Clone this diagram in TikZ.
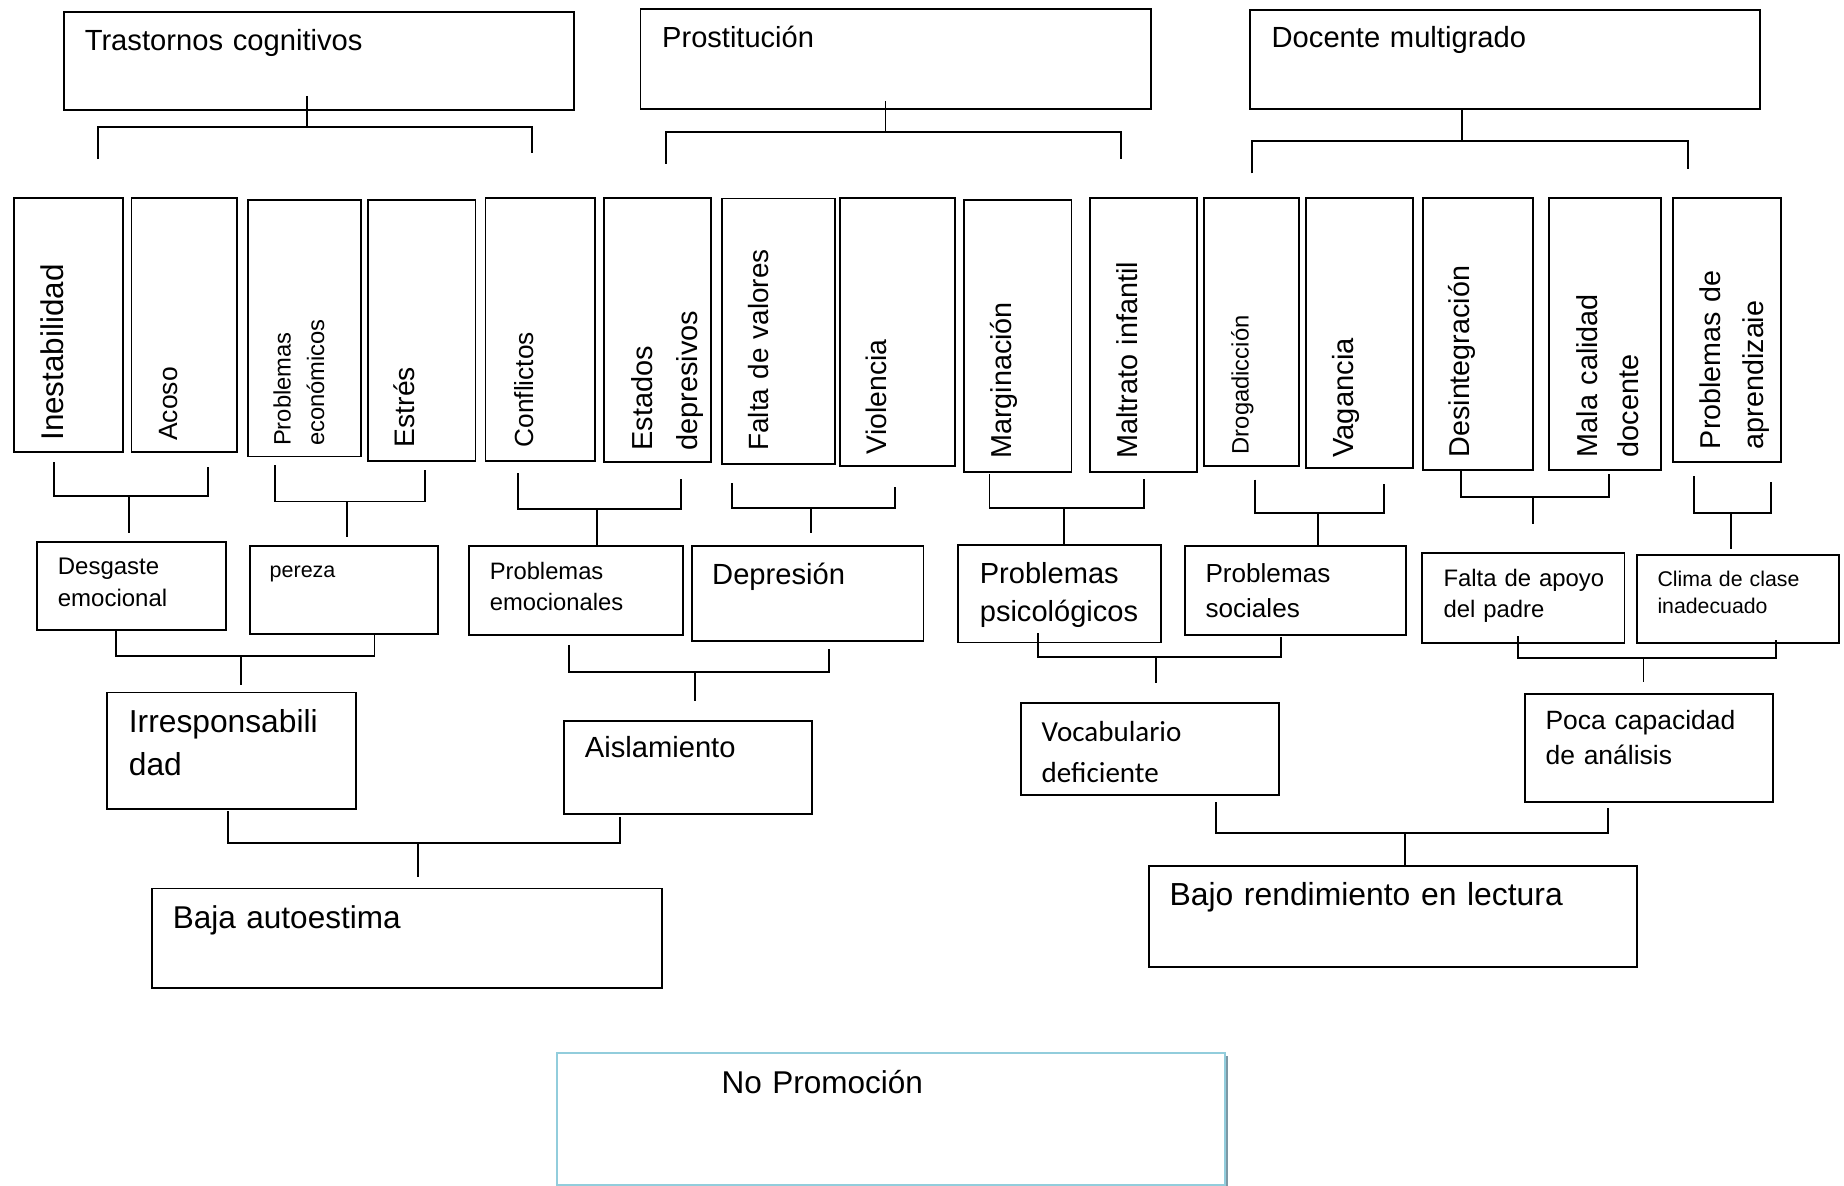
\documentclass[tikz,border=0pt]{standalone}
\usepackage{fontspec}
\setmainfont{Liberation Sans}
\newfontfamily\carlito{Carlito}
\usetikzlibrary{positioning, calc, shadows}
\definecolor{promo}{RGB}{146,205,220}
\definecolor{promoshade}{RGB}{125,152,165}
\hyphenpenalty=10000
\exhyphenpenalty=10000

\begin{document}
\begin{tikzpicture}
  [x=1pt, y=-1pt,
   box/.style={draw, line width=.8pt, rectangle, anchor=north west, align=left, inner ysep=0pt},
   tallbox/.style={box, rotate=90},
   sz/.style n args={4}{text width=#1pt, inner xsep=#2pt, text height=#3pt, text depth=#4pt},
   fs/.style 2 args={font=\fontsize{#1}{#2}\selectfont},
   link/.style={line width=.8pt},
   promobox/.style={box, draw=promo, line width=1pt, fill=white,
     drop shadow={shadow xshift=1.2pt, shadow yshift=-1.2pt, fill=promoshade, opacity=1}}]
  \path[use as bounding box, fill=white] (0,0) rectangle (784,504);

  \node[box, sz={198.95}{8.9}{16.4}{25.55}, fs={12.4}{15}] (trast) at (26.75,4.55) {Trastornos cognitivos};
  \node[box, sz={198.4}{9.25}{16.3}{26.2}, fs={12.35}{15}] (prost) at (271.9,3.55) {Prostitución};
  \node[box, sz={198.65}{9.1}{16}{25.95}, fs={12.4}{15}] (docen) at (531.15,3.85) {Docente multigrado};

  \node[tallbox, sz={98}{5}{21}{25.4}, fs={13.35}{16}] (ines) at (5.4,192.75) {Inestabilidad};
  \node[tallbox, sz={98}{5}{19.45}{25.4}, fs={11.25}{14}] (acoso) at (55.5,192.75) {Acoso};
  \node[tallbox, sz={100}{4.5}{18.3}{29.8}, fs={10.1}{14.2}] (econ) at (104.9,194.5) {Problemas\\económicos};
  \node[tallbox, sz={99.2}{5.8}{19.9}{25.85}, fs={12}{14}] (estres) at (156,196.3) {Estrés};
  \node[tallbox, sz={100.15}{5.7}{20.5}{26}, fs={11.15}{14}] (confl) at (206,196.3) {Conflictos};
  \node[tallbox, sz={102.25}{5}{20.5}{24.85}, fs={12.3}{19.3}] (estad) at (256.5,197) {Estados\\depresivos};
  \node[tallbox, sz={101.5}{5.7}{20.1}{28.15}, fs={11.85}{14}] (falta) at (306.4,197.7) {Falta de valores};
  \node[tallbox, sz={103.85}{4.9}{19.7}{29.4}, fs={12.05}{14}] (viol) at (356.65,198.4) {Violencia};
  \node[tallbox, sz={104.7}{5.5}{20.05}{25.65}, fs={12.25}{14}] (margi) at (409.45,201) {Marginación};
  \node[tallbox, sz={105.25}{5.5}{20.3}{25.35}, fs={12.25}{14}] (maltr) at (463,201) {Maltrato infantil};
  \node[tallbox, sz={103.85}{4.9}{18.9}{21.25}, fs={10.1}{12}] (droga) at (511.6,198.4) {Drogadicción};
  \node[tallbox, sz={105.75}{4.5}{20.2}{25.55}, fs={12.4}{14}] (vagan) at (554.7,199.5) {Vagancia};
  \node[tallbox, sz={104.7}{5.4}{20}{26.75}, fs={12.2}{14}] (desin) at (604.5,200.25) {Desintegración};
  \node[tallbox, sz={104.7}{5.4}{20.5}{27}, fs={12.25}{17.5}] (malac) at (658.25,200.25) {Mala calidad\\docente};
  \node[tallbox, sz={100.85}{5.7}{20}{25.9}, fs={12.2}{18.3}] (aprend) at (711,197) {Problemas de\\aprendizaie};

  \node[box, sz={62.6}{8.7}{14}{23.5}, fs={10.2}{13.7}] (desga) at (15.5,229.9) {Desgaste\\emocional};
  \node[box, sz={63.4}{8.25}{13.4}{24.25}, fs={9.15}{11}] (perez) at (106,231.6) {pereza};
  \node[box, sz={73.3}{8.75}{14.25}{23.5}, fs={10.1}{13.35}] (pemoc) at (199.1,231.75) {Problemas\\emocionales};
  \node[box, sz={81.1}{8.75}{16.25}{24}, fs={12.4}{15}] (depre) at (293.65,231.75) {Depresión};
  \node[box, sz={67.9}{9.25}{16.2}{25.25}, fs={12.35}{16.45}] (psico) at (406.95,231.3) {Problemas\\psicológicos};
  \node[box, sz={76.4}{8.75}{15.45}{22.35}, fs={11.1}{14.9}] (socia) at (503.4,231.75) {Problemas\\sociales};
  \node[box, sz={67.85}{9.05}{14.15}{24.25}, fs={10.15}{13.35}] (apoyo) at (604.3,234.6) {Falta~de~apoyo\\del padre};
  \node[box, sz={68.6}{8.55}{13.35}{24.25}, fs={9.05}{11.85}] (clima) at (695.75,235.4) {Clima~de~clase\\inadecuado};

  \node[box, sz={87.3}{9.25}{17}{32.65}, fs={13.5}{18.25}] (irres) at (45.15,294) {Irresponsabili\\dad};
  \node[box, sz={88}{8.75}{15.65}{23.85}, fs={12.4}{15}] (aisla) at (239.5,306) {Aislamiento};
  \node[box, sz={91.95}{8.75}{16.25}{22.75}, font=\carlito\fontsize{12.35}{17.5}\selectfont] (vocab) at (433.75,298.55) {Vocabulario\\deficiente};
  \node[box, sz={87.9}{8.8}{15.05}{30.8}, fs={11.25}{14.85}] (pocac) at (647.9,294.75) {Poca~capacidad\\de análisis};

  \node[box, sz={199.1}{9}{17.15}{25}, fs={13.4}{16}] (bajaa) at (64.1,377.35) {Baja autoestima};
  \node[box, sz={190.15}{8.75}{16.7}{26.25}, fs={13.55}{16}] (bajor) at (488.1,367.95) {Bajo rendimiento en lectura};
  \node[promobox, sz={144.05}{70}{17.45}{38.95}, fs={13.4}{16}] (nopro) at (236.3,447.1) {No Promoción};

  \coordinate (t1) at (130.5,54);
  \coordinate (t2) at (376.5,56);
  \coordinate (t3) at (621.5,60);
  \draw[link] ($(t1 |- trast.south)+(0,-6.5)$) -- (t1);
  \draw[link] ($(ines.north east)+(36.1,-16.25)$) |- (t1) -| ($(confl.north east)+(20,-18.75)$);
  \draw[link] ($(t2 |- prost.south)+(0,-4)$) -- (t2);
  \draw[link] ($(estad.north east)+(26.5,-14.25)$) |- (t2) -| ($(maltr.north east)+(13.5,-16.25)$);
  \draw[link] (t3 |- docen.south) -- (t3);
  \draw[link] ($(droga.north east)+(20.65,-10.25)$) |- (t3) -| ($(aprend.north east)+(6.5,-12.25)$);

  \coordinate (j1) at (54.9,211);
  \coordinate (j2) at (147.7,213.2);
  \coordinate (j3) at (254,216.5);
  \coordinate (j4) at (344.8,215.8);
  \coordinate (j5) at (452.5,216.1);
  \coordinate (j6) at (560.25,218.05);
  \coordinate (j7) at (651.65,211.25);
  \coordinate (j8) at (736.1,218.05);
  \draw[link] ($(ines.north west)+(17.55,3.75)$) |- (j1) -| ($(acoso.north west)+(33,5.75)$);
  \draw[link] (j1) -- ($(j1 |- desga.north)+(0,-3.5)$);
  \draw[link] ($(econ.north west)+(11.85,3.2)$) |- (j2) -| ($(estres.north west)+(24.85,3.55)$);
  \draw[link] (j2) -- ($(j2 |- perez.north)+(0,-3.1)$);
  \draw[link] ($(confl.north west)+(14.3,4.9)$) |- (j3) -| ($(estad.north west)+(32.9,6.5)$);
  \draw[link] (j3) -- (j3 |- pemoc.north);
  \draw[link] ($(falta.north west)+(4.75,7.8)$) |- (j4) -| ($(viol.north west)+(23.85,8.6)$);
  \draw[link] (j4) -- ($(j4 |- depre.north)+(0,-5.35)$);
  \draw[link] ($(margi.north west)+(11.25,0.35)$) |- (j5) -| ($(maltr.north west)+(23.35,2.5)$);
  \draw[link] (j5) -- (j5 |- psico.north);
  \draw[link] ($(droga.north west)+(21.85,5.55)$) |- (j6) -| ($(vagan.north west)+(33.8,6.45)$);
  \draw[link] (j6) -- (j6 |- socia.north);
  \draw[link] ($(desin.north west)+(16.6,0)$) |- (j7) -| ($(malac.north west)+(26,1.4)$);
  \draw[link] (j7) -- ($(j7 |- apoyo.north)+(0,-11.65)$);
  \draw[link] ($(aprend.north west)+(9.05,5.45)$) |- (j8) -| ($(aprend.north west)+(42.1,8)$);
  \draw[link] (j8) -- ($(j8 |- clima.north)+(0,-2.15)$);

  \coordinate (k1) at (102.3,278.8);
  \coordinate (k2) at (295.65,285.65);
  \coordinate (k3) at (491.35,279.4);
  \coordinate (k4) at (698.75,279.85);
  \draw[link] ($(desga.south west)+(33.65,-0.4)$) |- (k1) -| ($(perez.south west)+(53.2,-0.75)$);
  \draw[link] (k1) -- ($(k1 |- irres.north)+(0,-2.75)$);
  \draw[link] ($(pemoc.south west)+(42.9,3.85)$) |- (k2) -| ($(depre.south west)+(58.65,3.3)$);
  \draw[link] (k2) -- ($(k2 |- aisla.north)+(0,-7.9)$);
  \draw[link] ($(psico.south west)+(34.3,-4.25)$) |- (k3) -| ($(socia.south west)+(41.1,0.45)$);
  \draw[link] (k3) -- ($(k3 |- vocab.north)+(0,-8.05)$);
  \draw[link] ($(apoyo.south west)+(41.1,-3.3)$) |- (k4) -| ($(clima.south west)+(59.4,-1.8)$);
  \draw[link] (k4) -- ($(k4 |- pocac.north)+(0,-4.7)$);

  \coordinate (m1) at (177.65,358.5);
  \coordinate (m2) at (597.5,354.25);
  \draw[link] ($(irres.south west)+(51.65,0.45)$) |- (m1) -| ($(aisla.south west)+(24.2,0.85)$);
  \draw[link] (m1) -- ($(m1 |- bajaa.north)+(0,-4.4)$);
  \draw[link] ($(vocab.south west)+(83.4,2.75)$) |- (m2) -| ($(pocac.south west)+(35.85,2)$);
  \draw[link] (m2) -- (m2 |- bajor.north);

  % \draw[red] (0,0) rectangle (784,504);
\end{tikzpicture}
\end{document}
